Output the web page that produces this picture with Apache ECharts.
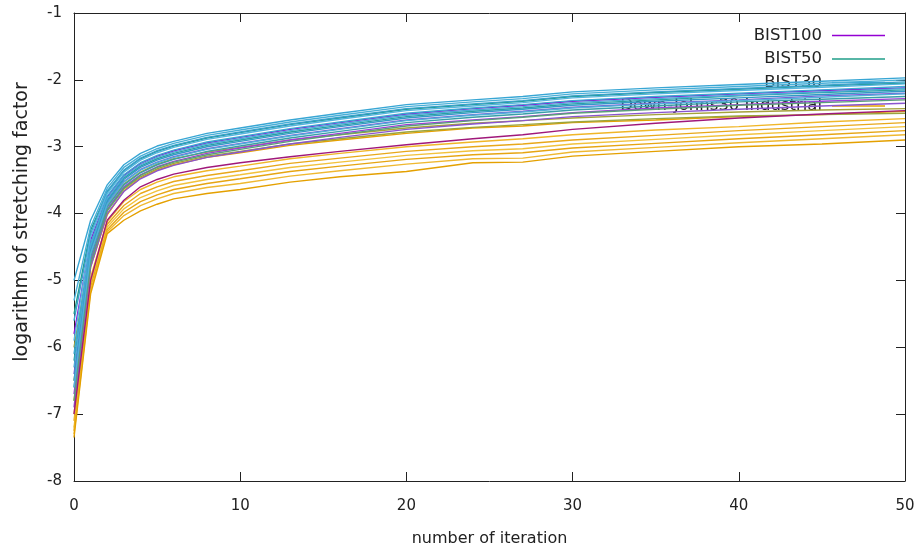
<!DOCTYPE html>
<html>
<head>
<meta charset="utf-8">
<script src="https://cdn.jsdelivr.net/npm/echarts@6/dist/echarts.min.js"></script>
<style>html,body{margin:0;padding:0;background:#fff}#c{width:919px;height:553px}</style>
</head>
<body>
<div id="c"></div>
<script>
// iteration numbers where values were read
const iterations = [0,1,2,3,4,5,6,8,10,13,16,20,24,27,30,35,40,45,50];
const xTicks = [0,10,20,30,40,50];
const yTicks = [-8,-7,-6,-5,-4,-3,-2,-1];

// BIST30 curves
const bist30_1 = [-5.0,-4.1,-3.57,-3.27,-3.1,-2.99,-2.92,-2.8,-2.72,-2.6,-2.5,-2.37,-2.3,-2.25,-2.18,-2.12,-2.07,-2.02,-1.97];
const bist30_2 = [-5.3,-4.2,-3.62,-3.31,-3.14,-3.03,-2.95,-2.83,-2.75,-2.63,-2.53,-2.4,-2.33,-2.28,-2.21,-2.15,-2.1,-2.05,-2.0];
const bist30_3 = [-5.6,-4.3,-3.66,-3.35,-3.17,-3.06,-2.98,-2.86,-2.78,-2.66,-2.56,-2.43,-2.36,-2.31,-2.24,-2.18,-2.13,-2.08,-2.03];
const bist30_4 = [-5.9,-4.35,-3.7,-3.38,-3.2,-3.09,-3.01,-2.89,-2.81,-2.69,-2.59,-2.46,-2.39,-2.34,-2.27,-2.21,-2.16,-2.11,-2.06];
const bist30_5 = [-6.1,-4.45,-3.74,-3.42,-3.24,-3.13,-3.05,-2.93,-2.85,-2.73,-2.63,-2.5,-2.42,-2.37,-2.31,-2.25,-2.2,-2.15,-2.1];
const bist30_6 = [-6.3,-4.5,-3.78,-3.45,-3.27,-3.16,-3.08,-2.96,-2.88,-2.76,-2.66,-2.53,-2.45,-2.4,-2.34,-2.28,-2.23,-2.18,-2.13];
const bist30_7 = [-6.5,-4.55,-3.82,-3.49,-3.31,-3.2,-3.12,-3.0,-2.92,-2.8,-2.7,-2.57,-2.49,-2.44,-2.38,-2.32,-2.27,-2.22,-2.17];
const bist30_8 = [-6.6,-4.6,-3.86,-3.53,-3.35,-3.24,-3.16,-3.04,-2.96,-2.84,-2.74,-2.61,-2.53,-2.48,-2.42,-2.36,-2.31,-2.26,-2.21];

// BIST50 curves
const bist50_1 = [-5.5,-4.25,-3.68,-3.36,-3.18,-3.07,-2.99,-2.87,-2.79,-2.67,-2.57,-2.44,-2.37,-2.32,-2.25,-2.19,-2.14,-2.09,-2.05];
const bist50_2 = [-6.2,-4.5,-3.8,-3.47,-3.29,-3.18,-3.1,-2.98,-2.9,-2.78,-2.68,-2.55,-2.47,-2.42,-2.36,-2.3,-2.24,-2.19,-2.15];
const bist50_3 = [-6.6,-4.65,-3.9,-3.57,-3.39,-3.27,-3.19,-3.07,-2.99,-2.87,-2.77,-2.64,-2.56,-2.51,-2.45,-2.39,-2.33,-2.29,-2.25];
const bist50_4 = [-6.8,-4.75,-3.95,-3.62,-3.43,-3.31,-3.23,-3.12,-3.04,-2.92,-2.82,-2.69,-2.61,-2.56,-2.5,-2.44,-2.38,-2.34,-2.3];

// BIST100 curves
const bist100_1 = [-5.8,-4.4,-3.75,-3.43,-3.25,-3.14,-3.06,-2.94,-2.86,-2.74,-2.64,-2.51,-2.43,-2.38,-2.32,-2.26,-2.21,-2.16,-2.12];
const bist100_2 = [-6.4,-4.6,-3.85,-3.52,-3.34,-3.23,-3.15,-3.03,-2.95,-2.83,-2.73,-2.6,-2.52,-2.47,-2.41,-2.35,-2.3,-2.24,-2.2];
const bist100_3 = [-6.7,-4.7,-3.93,-3.6,-3.42,-3.3,-3.22,-3.1,-3.02,-2.9,-2.8,-2.67,-2.6,-2.55,-2.49,-2.42,-2.37,-2.32,-2.28];
const bist100_4 = [-6.9,-4.8,-4.0,-3.67,-3.48,-3.36,-3.28,-3.16,-3.08,-2.96,-2.86,-2.74,-2.66,-2.61,-2.55,-2.49,-2.44,-2.39,-2.35];
const bist100_5 = [-7.0,-5.0,-4.1,-3.8,-3.6,-3.49,-3.41,-3.31,-3.24,-3.15,-3.07,-2.97,-2.88,-2.82,-2.74,-2.65,-2.57,-2.51,-2.46];

// Dow-Jones curves
const dow_1 = [-6.8,-4.8,-4.02,-3.66,-3.47,-3.35,-3.27,-3.16,-3.09,-2.98,-2.9,-2.8,-2.72,-2.69,-2.64,-2.6,-2.55,-2.52,-2.47];
const dow_2 = [-6.0,-4.55,-3.88,-3.56,-3.38,-3.26,-3.18,-3.08,-3.01,-2.9,-2.82,-2.72,-2.65,-2.61,-2.57,-2.52,-2.48,-2.45,-2.43];
const dow_3 = [-6.5,-4.7,-3.96,-3.63,-3.45,-3.33,-3.25,-3.14,-3.07,-2.96,-2.88,-2.78,-2.71,-2.67,-2.63,-2.58,-2.54,-2.52,-2.5];
const dow_4 = [-7.0,-4.95,-4.12,-3.82,-3.64,-3.53,-3.45,-3.36,-3.29,-3.18,-3.1,-3.0,-2.93,-2.88,-2.82,-2.75,-2.7,-2.63,-2.58];
const dow_5 = [-7.1,-5.0,-4.16,-3.88,-3.7,-3.6,-3.52,-3.43,-3.36,-3.25,-3.17,-3.07,-3.0,-2.96,-2.9,-2.83,-2.76,-2.7,-2.64];
const dow_6 = [-7.2,-5.05,-4.2,-3.93,-3.76,-3.66,-3.58,-3.49,-3.42,-3.31,-3.23,-3.13,-3.06,-3.03,-2.96,-2.89,-2.82,-2.76,-2.7];
const dow_7 = [-7.25,-5.1,-4.24,-3.98,-3.82,-3.72,-3.64,-3.55,-3.48,-3.37,-3.29,-3.19,-3.12,-3.09,-3.02,-2.95,-2.88,-2.82,-2.76];
const dow_8 = [-7.3,-5.15,-4.27,-4.03,-3.88,-3.78,-3.7,-3.61,-3.55,-3.44,-3.36,-3.26,-3.18,-3.17,-3.08,-3.01,-2.94,-2.88,-2.82];
const dow_9 = [-7.35,-5.2,-4.3,-4.1,-3.96,-3.86,-3.78,-3.7,-3.64,-3.53,-3.45,-3.37,-3.24,-3.23,-3.14,-3.07,-3.0,-2.96,-2.9];

const names = ['BIST100','BIST50','BIST30','Down-Johns30 Industrial'];
const groups = [
  {name:'Down-Johns30 Industrial', colors:['#e6a100','#a4a23a','#9aa43e','#f0b628','#e8a81a','#f2c23c','#e6a512','#efb830','#e4a000'], lines:[dow_1,dow_2,dow_3,dow_4,dow_5,dow_6,dow_7,dow_8,dow_9]},
  {name:'BIST100', colors:['#9400d3','#7a5fd6','#9b3fd8','#8a55d0','#a0187a'], lines:[bist100_1,bist100_2,bist100_3,bist100_4,bist100_5]},
  {name:'BIST50', colors:['#1f9e89','#2aa0a0','#3a9ea8','#5a9f7a'], lines:[bist50_1,bist50_2,bist50_3,bist50_4]},
  {name:'BIST30', colors:['#38a6d4','#48afd8','#3aa0cc','#56b4e0','#3da8d2','#4aaad6','#3399c8','#52b0da'], lines:[bist30_1,bist30_2,bist30_3,bist30_4,bist30_5,bist30_6,bist30_7,bist30_8]}
];

const series = [];
groups.forEach(g => {
  g.lines.forEach((arr, i) => {
    series.push({
      type:'line', name:g.name, xAxisIndex:0, yAxisIndex:0,
      data: iterations.map((x, k) => [x, arr[k]]),
      showSymbol:false, symbol:'none', smooth:false, z:3,
      color:g.colors[i % g.colors.length],
      lineStyle:{width:1.4, color:g.colors[i % g.colors.length]},
      emphasis:{disabled:true}, animation:false
    });
  });
});
const legendColors = {'BIST100':'#9400d3','BIST50':'#1f9e89','BIST30':'#38a6d4','Down-Johns30 Industrial':'#e6a100'};

const font = 'DejaVu Sans';
const legends = names.map((n, i) => ({
  data:[{name:n, itemStyle:{color:legendColors[n]}}],
  orient:'vertical', right:29, top:22 + i*23.5, align:'right',
  icon:'rect', itemWidth:53, itemHeight:1.5, z:0, zlevel:0,
  selectedMode:false,
  textStyle:{fontFamily:font, fontSize:16.5, color:'#222', padding:[0,5,0,0]}
}));

const chart = echarts.init(document.getElementById('c'), null, {renderer:'canvas'});
chart.setOption({
  animation:false,
  backgroundColor:'#fff',
  grid:{left:74, right:14, top:13, bottom:72},
  legend:legends,
  xAxis:[{
    type:'value', min:0, max:50, interval:10, position:'bottom',
    name:'number of iteration', nameLocation:'middle', nameGap:50,
    nameTextStyle:{fontFamily:font, fontSize:16, color:'#222'},
    axisLine:{show:true, onZero:false, lineStyle:{color:'#222', width:1}},
    axisTick:{show:true, inside:true, length:9, lineStyle:{color:'#222'}},
    axisLabel:{fontFamily:font, fontSize:15, color:'#222', margin:18, formatter:v => xTicks.includes(v) ? String(v) : ''},
    splitLine:{show:false}
  },{
    type:'value', min:0, max:50, interval:10, position:'top',
    axisLine:{show:true, onZero:false, lineStyle:{color:'#222', width:1}},
    axisTick:{show:true, inside:true, length:9, lineStyle:{color:'#222'}},
    axisLabel:{show:false}, splitLine:{show:false}
  }],
  yAxis:[{
    type:'value', min:-8, max:-1, interval:1, position:'left',
    name:'logarithm of stretching factor', nameLocation:'middle', nameGap:42, nameRotate:90,
    nameTextStyle:{fontFamily:font, fontSize:19, color:'#222', padding:[0,0,0,50]},
    axisLine:{show:true, onZero:false, lineStyle:{color:'#222', width:1}},
    axisTick:{show:true, inside:true, length:9, lineStyle:{color:'#222'}},
    axisLabel:{fontFamily:font, fontSize:15, color:'#222', margin:12, formatter:v => yTicks.includes(v) ? String(v) : ''},
    splitLine:{show:false}
  },{
    type:'value', min:-8, max:-1, interval:1, position:'right',
    axisLine:{show:true, onZero:false, lineStyle:{color:'#222', width:1}},
    axisTick:{show:true, inside:true, length:9, lineStyle:{color:'#222'}},
    axisLabel:{show:false}, splitLine:{show:false}
  }],
  series:series
});
</script>
</body>
</html>
